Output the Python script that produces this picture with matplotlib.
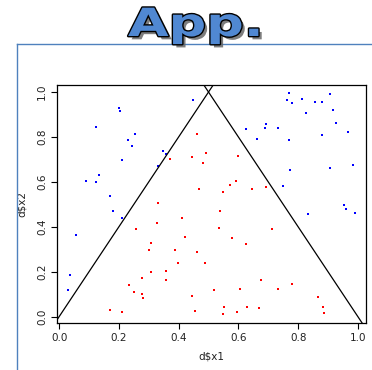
import matplotlib
matplotlib.use("Agg")
import matplotlib.pyplot as plt
from matplotlib.lines import Line2D
from matplotlib.transforms import Affine2D
import matplotlib.patheffects as pe

# ==========================
# 1. DATA
# ==========================

blue_x = [0.199, 0.205, 0.123, 0.254, 0.230, 0.245, 0.212, 0.132, 0.091, 0.125,
          0.170, 0.331, 0.448, 0.624, 0.662, 0.690, 0.694, 0.349, 0.358, 0.770,
          0.761, 0.780, 0.813, 0.855, 0.881, 0.907, 0.918, 0.827, 0.927, 0.734,
          0.968, 0.881, 0.771, 0.982, 0.905, 0.774, 0.750, 0.954, 0.961, 0.989,
          0.834, 0.181, 0.210, 0.058, 0.038, 0.031]
blue_y = [0.927, 0.915, 0.844, 0.814, 0.787, 0.761, 0.699, 0.630, 0.605, 0.600,
          0.537, 0.673, 0.964, 0.835, 0.792, 0.839, 0.857, 0.737, 0.725, 0.996,
          0.966, 0.949, 0.970, 0.957, 0.957, 0.992, 0.922, 0.908, 0.860, 0.838,
          0.824, 0.807, 0.787, 0.676, 0.660, 0.652, 0.584, 0.498, 0.479, 0.463,
          0.458, 0.472, 0.439, 0.363, 0.187, 0.120]

red_x = [0.331, 0.372, 0.463, 0.491, 0.446, 0.483, 0.599, 0.593, 0.573, 0.469,
         0.549, 0.647, 0.694, 0.328, 0.258, 0.308, 0.300, 0.307, 0.276, 0.235,
         0.249, 0.278, 0.280, 0.172, 0.209, 0.539, 0.412, 0.536, 0.421, 0.578,
         0.625, 0.389, 0.460, 0.398, 0.489, 0.359, 0.359, 0.676, 0.518, 0.604,
         0.444, 0.456, 0.552, 0.547, 0.597, 0.629, 0.669, 0.711, 0.732, 0.778,
         0.865, 0.884, 0.888]
red_y = [0.504, 0.700, 0.814, 0.728, 0.710, 0.685, 0.716, 0.606, 0.586, 0.570,
         0.553, 0.568, 0.579, 0.416, 0.391, 0.328, 0.299, 0.201, 0.171, 0.140,
         0.109, 0.102, 0.082, 0.029, 0.021, 0.472, 0.439, 0.397, 0.354, 0.349,
         0.325, 0.299, 0.290, 0.239, 0.239, 0.202, 0.164, 0.162, 0.120, 0.122,
         0.091, 0.027, 0.043, 0.013, 0.021, 0.043, 0.039, 0.392, 0.125, 0.144,
         0.088, 0.045, 0.018]

# boundary lines: y = a + b * x
line_a = [0.0, 2.0]
line_b = [2.0, -2.0]

ticks = [0.0, 0.2, 0.4, 0.6, 0.8, 1.0]
tick_labels = ["0.0", "0.2", "0.4", "0.6", "0.8", "1.0"]


# stretch title text sideways (wide banner look), keeps it as real text
class Wide(pe.AbstractPathEffect):
    def __init__(self, sx, cx, inner):
        super().__init__()
        self.sx = sx
        self.cx = cx
        self.inner = inner

    def draw_path(self, renderer, gc, tpath, affine, rgbFace=None):
        wide = affine + Affine2D().translate(-self.cx, 0).scale(self.sx, 1).translate(self.cx, 0)
        for eff in self.inner:
            eff.draw_path(renderer, gc, tpath, wide, rgbFace)


# ==========================
# 2. FIGURE
# ==========================

fig = plt.figure(figsize=(3.72, 3.70), dpi=100)

frame_col = "#4f81bd"
fig.add_artist(Line2D([16.5 / 372, 16.5 / 372], [0, 1 - 43.5 / 370],
                      color=frame_col, lw=1.0, zorder=1))
fig.add_artist(Line2D([16.5 / 372, 1], [1 - 43.5 / 370, 1 - 43.5 / 370],
                      color=frame_col, lw=1.0, zorder=1))

fig.text(
    196 / 372, 1 - 36 / 370, "App.",
    ha="center", va="baseline",
    fontsize=28, fontweight="bold", family="DejaVu Sans",
    color="#5088d2", zorder=5,
    path_effects=[Wide(1.35, 196, [
        pe.SimplePatchShadow(offset=(2.4, -2.4), shadow_rgbFace="#666666", alpha=0.85),
        pe.Stroke(linewidth=2.0, foreground="black"),
        pe.Normal(),
    ])],
)

ax = fig.add_axes([57.3 / 372, 47 / 370, 308.7 / 372, 237.7 / 370])

ax.plot(blue_x, blue_y, "s", color="blue", ms=1.7, mew=0)
ax.plot(red_x, red_y, "s", color="red", ms=1.7, mew=0)

for a, b in zip(line_a, line_b):
    ax.axline((0, a), slope=b, color="black", lw=0.9)

ax.set_xlim(-0.006, 1.027)
ax.set_ylim(-0.028, 1.030)

ax.set_xticks(ticks)
ax.set_xticklabels(tick_labels)
ax.set_yticks(ticks)
ax.set_yticklabels(tick_labels, rotation=90, va="center")

ax.tick_params(direction="out", length=4, width=0.8, color="black",
               labelsize=7.5, labelcolor="#222222", pad=3.5)

for s in ax.spines.values():
    s.set_color("black")
    s.set_linewidth(0.9)

ax.set_xlabel("d$x1", fontsize=7.5, color="#222222")
ax.set_ylabel("d$x2", fontsize=7.5, color="#222222")
ax.xaxis.set_label_coords(0.498, -0.12)
ax.yaxis.set_label_coords(-0.10, 0.5)

fig.savefig("out.png", dpi=100)
